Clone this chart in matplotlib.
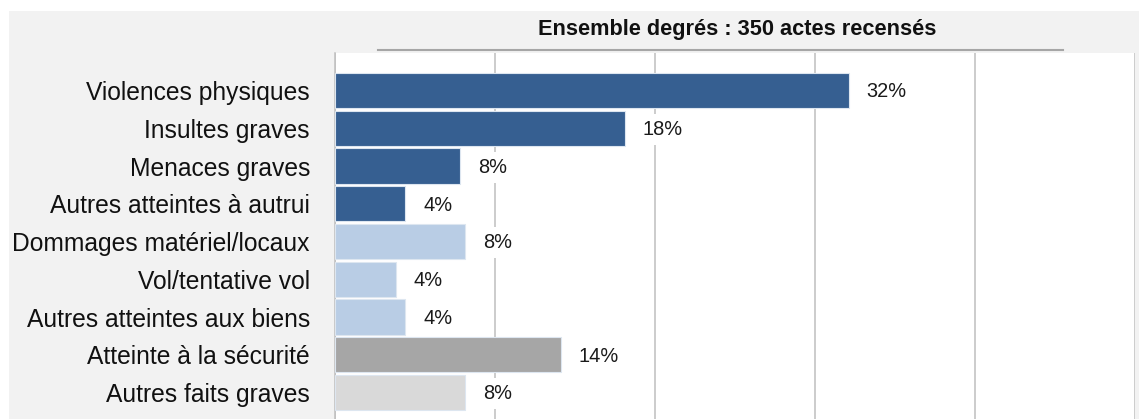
import matplotlib.pyplot as plt
from matplotlib.patches import Rectangle
from matplotlib.lines import Line2D

# data
categories = ["Violences physiques", "Insultes graves", "Menaces graves",
              "Autres atteintes à autrui", "Dommages matériel/locaux",
              "Vol/tentative vol", "Autres atteintes aux biens",
              "Atteinte à la sécurité", "Autres faits graves"]
values = [32.1, 18.1, 7.8, 4.4, 8.1, 3.8, 4.4, 14.1, 8.1]
value_labels = ["32%", "18%", "8%", "4%", "8%", "4%", "4%", "14%", "8%"]
groups = ["personnes", "personnes", "personnes", "personnes",
          "biens", "biens", "biens", "securite", "autres"]
title = "Ensemble degrés : 350 actes recensés"

group_colors = {"personnes": "#365f91", "biens": "#b9cde5",
                "securite": "#a6a6a6", "autres": "#d9d9d9"}

label_font = ["Liberation Sans", "DejaVu Sans"]

fig = plt.figure(figsize=(11.39, 4.19), dpi=100)
fig.patch.set_facecolor("white")
W, H = 1139, 419

# grey panel behind everything
fig.patches.append(Rectangle((9 / W, 0), 1 - 9 / W, (H - 11) / H,
                             transform=fig.transFigure, facecolor="#f2f2f2",
                             edgecolor="none", zorder=-10))

ax = fig.add_axes([335 / W, 0, 800 / W, (H - 53) / H])
ax.set_facecolor("white")

ypos = list(range(len(categories)))
colors = [group_colors[g] for g in groups]
ax.barh(ypos, values, height=0.93, color=colors, edgecolor="#dde6f0",
        linewidth=0.8, zorder=3)

for y, v, lab in zip(ypos, values, value_labels):
    ax.annotate(lab, (v, y), xytext=(13, -1), textcoords="offset points",
                va="center", ha="left", fontsize=14.4, family=label_font,
                color="#1a1a1a", zorder=4,
                bbox=dict(boxstyle="square,pad=0.3", facecolor="white",
                          edgecolor="none"))

ax.set_xlim(0, 50)
ax.set_ylim(8.70, -0.993)
ax.set_xticks([0, 10, 20, 30, 40, 50])
ax.xaxis.grid(True, color="#bfbfbf", linewidth=1.1, zorder=1)
ax.set_axisbelow(True)
ax.tick_params(axis="x", length=0, labelbottom=False)
ax.tick_params(axis="y", length=0, pad=18)
ax.set_yticks(ypos)
ax.set_yticklabels(categories, fontsize=17.7, family=label_font, color="#111111")
for side in ["top", "bottom", "right"]:
    ax.spines[side].set_visible(False)
ax.spines["left"].set_color("#bfbfbf")
ax.spines["left"].set_linewidth(1.1)

fig.text(737 / W, 1 - 30 / H, title, ha="center", va="center",
         fontsize=15.7, fontweight="bold", family=label_font,
         color="#111111")
fig.lines.append(Line2D([378 / W, 1063 / W], [1 - 50.5 / H, 1 - 50.5 / H],
                        transform=fig.transFigure, color="#a6a6a6", linewidth=1.5))

fig.savefig("out.png", dpi=100)
